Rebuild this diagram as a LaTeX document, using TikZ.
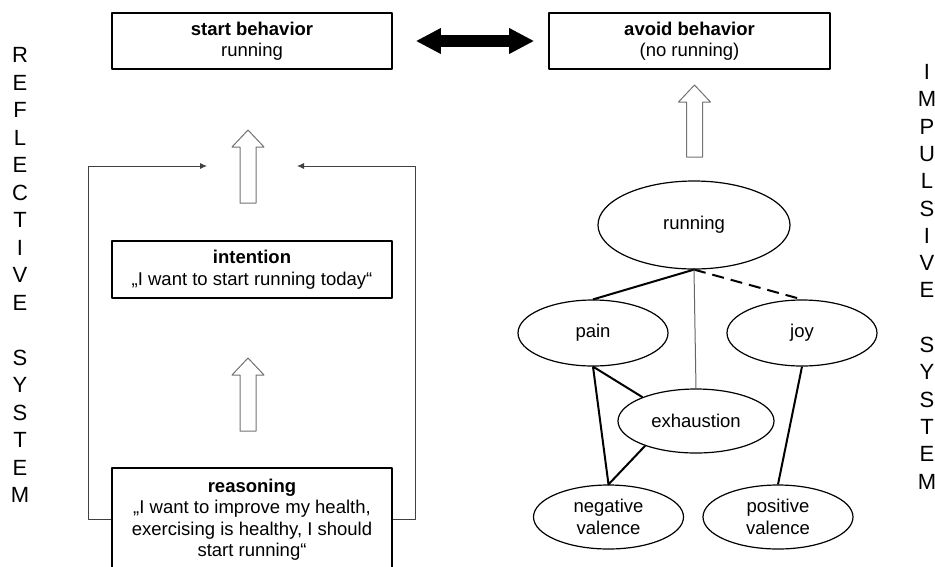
\documentclass[tikz,border=0pt]{standalone}
\usepackage{fontspec}
\setmainfont{Liberation Sans}
\usetikzlibrary{shapes.geometric,arrows.meta}

\begin{document}
\begin{tikzpicture}[x=1pt, y=-1pt, line join=round, >=Latex,
  font=\fontsize{18.5}{21.5}\selectfont,
  box/.style={draw, line width=1.6pt, minimum width=280pt, minimum height=56pt, align=center, inner sep=0pt},
  blob/.style={draw, ellipse, line width=1.2pt, inner sep=0pt, align=center},
  link/.style={line width=2pt},
  feedback/.style={draw=black!75, line width=0.9pt, -{Latex[length=7pt,width=6pt]}},
  hollow/.style={draw=black!55, fill=white, line width=1pt},
  letter/.style={font=\fontsize{22}{22}\selectfont}]
    \useasboundingbox (0,0) rectangle (935,566);
    \clip (0,0) rectangle (935,566);
    % reflective side
    \node[box] (start) at (252,41) {\textbf{start behavior}\\running};
    \node[box, minimum height=57pt] (intent) at (252,269.5) {\textbf{intention}\\„I want to start running today“};
    \node[box, minimum height=103pt] (reason) at (252,519.5) {\textbf{reasoning}\\„I want to improve my health,\\exercising is healthy, I should\\start running“};
    \path
    (88,166) coordinate (fbL)
    (207,166) coordinate (tipL)
    (415,166) coordinate (fbR)
    (297,166) coordinate (tipR) ;
    \draw[feedback] (reason.west) -| (fbL) -- (tipL);
    \draw[feedback] (reason.east) -| (fbR) -- (tipR);
    % impulsive side
    \node[box, minimum width=281pt] (avoid) at (689.5,41) {\textbf{avoid behavior}\\(no running)};
    \node[blob, minimum width=192pt, minimum height=88pt] (run) at (694,225) {running};
    \node[blob, minimum width=150pt, minimum height=66pt] (pain) at (593,333) {pain};
    \node[blob, minimum width=150pt, minimum height=66pt] (joy) at (802,333) {joy};
    \node[blob, minimum width=156pt, minimum height=64pt] (exh) at (696,421) {exhaustion};
    \node[blob, minimum width=150pt, minimum height=64pt] (negval) at (608.5,517) {negative\\valence};
    \node[blob, minimum width=150pt, minimum height=64pt] (posval) at (778,517) {positive\\valence};
    \draw[link] (run.south) -- (pain.north);
    \draw[link, dash pattern=on 12pt off 7pt] (run.south) -- (joy.north);
    \draw[black!60, line width=1pt] (run.south) -- (exh.north);
    \draw[link] (pain.south) -- (exh.156) (pain.south) -- (negval.north) -- (exh.206);
    \draw[link] (joy.south) -- (posval.north);
    % big arrows
    \draw[line width=12pt, {Triangle[length=25pt,width=24pt]}-{Triangle[length=25pt,width=24pt]}, shorten <=23pt, shorten >=14pt] (start.east) -- (avoid.west);
    \foreach \x/\b/\t in {248/203/130, 248/431/358, 694.5/157/85}
    \draw[hollow] (\x-8,\b) -- (\x-8,\t+17) -- (\x-16,\t+17) -- (\x,\t) -- (\x+16,\t+17) -- (\x+8,\t+17) -- (\x+8,\b) -- cycle;
    % side labels
    \foreach \l [count=\i from 0] in {R,E,F,L,E,C,T,I,V,E,{},S,Y,S,T,E,M}
    \node[letter] at (20,55+27.5*\i) {\l};
    \foreach \l [count=\i from 0] in {I,M,P,U,L,S,I,V,E,{},S,Y,S,T,E,M}
    \node[letter] at (927,72+27.3*\i) {\l};
\end{tikzpicture}
\end{document}
